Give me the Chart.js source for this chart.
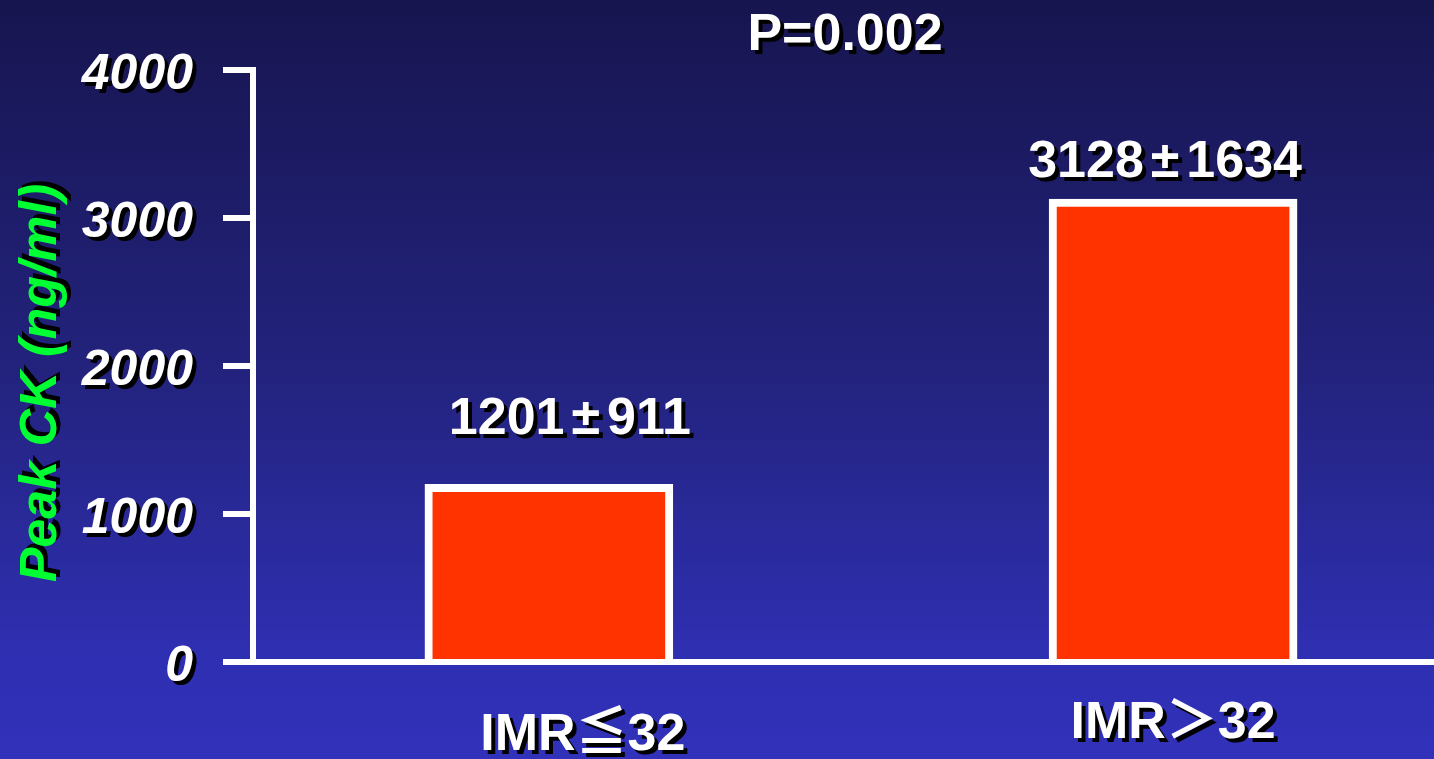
<!DOCTYPE html>
<html lang="en">
    <head>
        <meta charset="UTF-8">
        <title>Peak CK by IMR</title>
        <script src="https://cdn.jsdelivr.net/npm/chart.js"></script>
        <style>
            html, body {
                margin: 0;
                padding: 0;
                overflow: hidden;
                background-color: #22227f;
            }
            canvas {
                display: block;
            }
        </style>
    </head>
<body>
    <canvas id="ckChart" width="1434" height="759"></canvas>
    <script>
        // groups and their peak CK (mean, SD)
        const groups = ['IMR≦32', 'IMR＞32'];
        const peakCK = [1201, 3128];
        const peakCKsd = [911, 1634];
        const yTickValues = [0, 1000, 2000, 3000, 4000];
        const yTitle = 'Peak CK (ng/ml)';
        const pValue = 'P=0.002';

        const W = 1434, H = 759;
        const SANS = '"Liberation Sans", Arial, "Noto Sans CJK JP", sans-serif';

        function shadowText(ctx, text, x, y, color) {
            ctx.fillStyle = '#000';
            ctx.fillText(text, x + 4, y + 4);
            ctx.fillStyle = color;
            ctx.fillText(text, x, y);
        }

        // "mean±sd" with a little air around the ±
        function meanSdText(ctx, mean, sd, cx, y) {
            const pad = 7;
            const a = String(mean), b = String(sd);
            ctx.font = 'bold 52px ' + SANS;
            const wa = ctx.measureText(a).width;
            const wb = ctx.measureText(b).width;
            const wp = ctx.measureText('±').width + pad * 2;
            let x = cx - (wa + wp + wb) / 2;
            ctx.textAlign = 'left';
            shadowText(ctx, a, x, y, '#fff');
            x += wa + pad;
            shadowText(ctx, '±', x, y, '#fff');
            x += wp - pad;
            shadowText(ctx, b, x, y, '#fff');
        }

        const slideBackground = {
            id: 'slideBackground',
            beforeDraw(chart) {
                const ctx = chart.ctx;
                const g = ctx.createLinearGradient(0, 0, 0, H);
                g.addColorStop(0, '#17154f');
                g.addColorStop(0.5, '#23237f');
                g.addColorStop(0.87, '#2f2fb3');
                g.addColorStop(1, '#3131ba');
                ctx.save();
                ctx.fillStyle = g;
                ctx.fillRect(0, 0, W, H);
                ctx.restore();
            }
        };

        const slideText = {
            id: 'slideText',
            afterDraw(chart, args, opts) {
                const ctx = chart.ctx;
                const xs = chart.scales.x;
                const ys = chart.scales.y;
                ctx.save();

                // y tick labels
                ctx.font = 'italic bold 50px ' + SANS;
                ctx.textAlign = 'right';
                ctx.textBaseline = 'middle';
                ys.ticks.forEach(t => {
                    shadowText(ctx, String(t.value), 193, ys.getPixelForValue(t.value) + 5, '#fff');
                });

                // y axis title
                ctx.save();
                ctx.translate(42, 383);
                ctx.rotate(-Math.PI / 2);
                ctx.textAlign = 'center';
                ctx.textBaseline = 'middle';
                ctx.font = 'italic bold 52px ' + SANS;
                shadowText(ctx, yTitle, 0, 0, '#00ff33');
                ctx.restore();

                // mean ± SD above each bar
                ctx.textBaseline = 'alphabetic';
                chart.getDatasetMeta(0).data.forEach((bar, i) => {
                    meanSdText(ctx, peakCK[i], peakCKsd[i], bar.x + opts.valueShift[i], bar.y - opts.valueGap[i]);
                });

                // group labels under the axis
                ctx.font = 'bold 52px ' + SANS;
                ctx.textAlign = 'center';
                groups.forEach((g, i) => {
                    shadowText(ctx, g, xs.getPixelForValue(i) + opts.labelShift[i], opts.labelY[i], '#fff');
                });

                // p value
                ctx.textBaseline = 'middle';
                shadowText(ctx, pValue, 845, 36, '#fff');

                ctx.restore();
            }
        };

        new Chart(document.getElementById('ckChart'), {
            type: 'bar',
            data: {
                datasets: [{
                    data: groups.map((g, i) => ({ x: i, y: peakCK[i] })),
                    backgroundColor: '#ff3300',
                    borderColor: '#ffffff',
                    borderWidth: 8,
                    borderSkipped: 'start',
                    barThickness: 248
                }]
            },
            options: {
                responsive: false,
                devicePixelRatio: 1,
                animation: false,
                layout: { padding: { top: 70, left: 0, right: 0, bottom: 0 } },
                plugins: {
                    legend: { display: false },
                    tooltip: { enabled: false },
                    slideText: {
                        valueShift: [21, -8],
                        valueGap: [50, 22],
                        labelShift: [34, 0],
                        labelY: [750, 738]
                    }
                },
                scales: {
                    x: {
                        type: 'linear',
                        offset: false,
                        min: -0.474,
                        max: 1.418,
                        grid: { display: false },
                        ticks: { display: false },
                        border: { display: true, color: '#ffffff', width: 6 },
                        afterFit(scale) { scale.height = 97; }
                    },
                    y: {
                        min: 0,
                        max: 4000,
                        afterBuildTicks(scale) {
                            scale.ticks = yTickValues.map(v => ({ value: v }));
                        },
                        ticks: { display: false },
                        grid: {
                            drawOnChartArea: false,
                            drawTicks: true,
                            tickLength: 30,
                            lineWidth: 6,
                            color: '#ffffff'
                        },
                        border: { display: true, color: '#ffffff', width: 6 },
                        afterFit(scale) { scale.width = 253; }
                    }
                }
            },
            plugins: [slideBackground, slideText]
        });
    </script>
</body>
</html>
